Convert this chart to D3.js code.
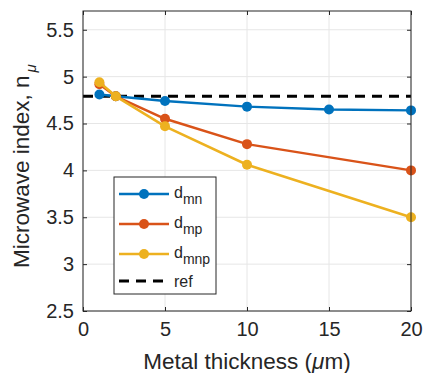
<!DOCTYPE html>
<html>
<head>
<meta charset="utf-8">
<script src="https://cdn.jsdelivr.net/npm/d3@7"></script>
<style>
  html, body { margin: 0; padding: 0; background: #fff; }
  svg text { font-family: "Liberation Sans", Arial, Helvetica, sans-serif; fill: #262626; }
</style>
</head>
<body>
<svg id="chart" width="424" height="373"></svg>
<script>
// Metal thickness (um) samples
const thickness = [1, 2, 5, 10, 15, 20];
const thicknessMp = [1, 2, 5, 10, 20];
// Microwave index for each configuration
const dmn  = [4.81, 4.79, 4.74, 4.68, 4.65, 4.64];
const dmp  = [4.92, 4.79, 4.55, 4.28, 4.00];
const dmnp = [4.94, 4.79, 4.47, 4.06, 3.50];
const refIndex = 4.79;

const xTicks = [0, 5, 10, 15, 20];
const yTicks = [2.5, 3, 3.5, 4, 4.5, 5, 5.5];

const colors = { dmn: "#0072BD", dmp: "#D95319", dmnp: "#EDB120" };

const svg = d3.select("#chart");
const m = { left: 83, right: 411, top: 11, bottom: 311 };

const x = d3.scaleLinear().domain([0, 20]).range([m.left, m.right]);
const y = d3.scaleLinear().domain([2.5, 5.7]).range([m.bottom, m.top]);

// grid
const grid = svg.append("g").attr("stroke", "#e6e6e6").attr("stroke-width", 1);
xTicks.forEach(t => grid.append("line")
  .attr("x1", x(t)).attr("x2", x(t)).attr("y1", m.top).attr("y2", m.bottom));
yTicks.forEach(t => grid.append("line")
  .attr("x1", m.left).attr("x2", m.right).attr("y1", y(t)).attr("y2", y(t)));

// axes
const xAxis = d3.axisBottom(x).tickValues(xTicks).tickSize(-4).tickPadding(11).tickFormat(d3.format("d"));
const yAxis = d3.axisLeft(y).tickValues(yTicks).tickSize(-4).tickPadding(9).tickFormat(d => String(d));

const gx = svg.append("g").attr("transform", `translate(0,${m.bottom})`).call(xAxis);
const gy = svg.append("g").attr("transform", `translate(${m.left},0)`).call(yAxis);
[gx, gy].forEach(g => {
  g.select(".domain").remove();
  g.selectAll(".tick line").attr("stroke", "#262626");
  g.selectAll(".tick text").attr("font-size", 20).style("fill", "#262626")
    .attr("font-family", "'Liberation Sans', Arial, sans-serif");
});
// top/right ticks
const gTop = svg.append("g").attr("transform", `translate(0,${m.top})`)
  .call(d3.axisTop(x).tickValues(xTicks).tickSize(-4).tickFormat(""));
const gRight = svg.append("g").attr("transform", `translate(${m.right},0)`)
  .call(d3.axisRight(y).tickValues(yTicks).tickSize(-4).tickFormat(""));
[gTop, gRight].forEach(g => { g.select(".domain").remove(); g.selectAll(".tick line").attr("stroke", "#262626"); });

// reference line
svg.append("line")
  .attr("x1", x(0)).attr("x2", x(20)).attr("y1", y(refIndex)).attr("y2", y(refIndex))
  .attr("stroke", "#000").attr("stroke-width", 3).attr("stroke-dasharray", "10,7");

const line = d3.line().x(d => x(d[0])).y(d => y(d[1]));
function drawSeries(xs, ys, color) {
  const pts = xs.map((v, i) => [v, ys[i]]);
  svg.append("path").datum(pts).attr("d", line)
    .attr("fill", "none").attr("stroke", color).attr("stroke-width", 2.5).attr("stroke-linejoin", "round");
  svg.append("g").selectAll("circle").data(pts).join("circle")
    .attr("cx", d => x(d[0])).attr("cy", d => y(d[1])).attr("r", 5).attr("fill", color);
}
drawSeries(thickness, dmn, colors.dmn);
drawSeries(thicknessMp, dmp, colors.dmp);
drawSeries(thicknessMp, dmnp, colors.dmnp);

// axes box
svg.append("rect").attr("x", m.left).attr("y", m.top)
  .attr("width", m.right - m.left).attr("height", m.bottom - m.top)
  .attr("fill", "none").attr("stroke", "#262626").attr("stroke-width", 1);

// axis labels
svg.append("text").attr("x", (m.left + m.right) / 2).attr("y", 369)
  .attr("text-anchor", "middle").attr("font-size", 22.5)
  .html('Metal thickness (<tspan font-style="italic">μ</tspan>m)');

const yl = svg.append("text")
  .attr("transform", "translate(29,268) rotate(-90)")
  .attr("text-anchor", "start").attr("font-size", 22.5);
yl.append("tspan").text("Microwave index, n");
yl.append("tspan").attr("font-size", 15).attr("dy", 7).attr("dx", 3).attr("font-style", "italic").text("μ");

// legend
const lg = svg.append("g");
lg.append("rect").attr("x", 114).attr("y", 177).attr("width", 102).attr("height", 117)
  .attr("fill", "#fff").attr("stroke", "#262626").attr("stroke-width", 1);
const entries = [
  { sub: "mn", color: colors.dmn, y: 194 },
  { sub: "mp", color: colors.dmp, y: 224 },
  { sub: "mnp", color: colors.dmnp, y: 254 }
];
entries.forEach(e => {
  lg.append("line").attr("x1", 119).attr("x2", 169).attr("y1", e.y).attr("y2", e.y)
    .attr("stroke", e.color).attr("stroke-width", 2.5);
  lg.append("circle").attr("cx", 144).attr("cy", e.y).attr("r", 5).attr("fill", e.color);
  const t = lg.append("text").attr("x", 174).attr("y", e.y + 4).attr("font-size", 16);
  t.append("tspan").text("d");
  t.append("tspan").attr("font-size", 14).attr("dy", 6).text(e.sub);
});
lg.append("line").attr("x1", 119).attr("x2", 169).attr("y1", 281).attr("y2", 281)
  .attr("stroke", "#000").attr("stroke-width", 3).attr("stroke-dasharray", "10,7");
lg.append("text").attr("x", 174).attr("y", 287).attr("font-size", 16).text("ref");
</script>
</body>
</html>
